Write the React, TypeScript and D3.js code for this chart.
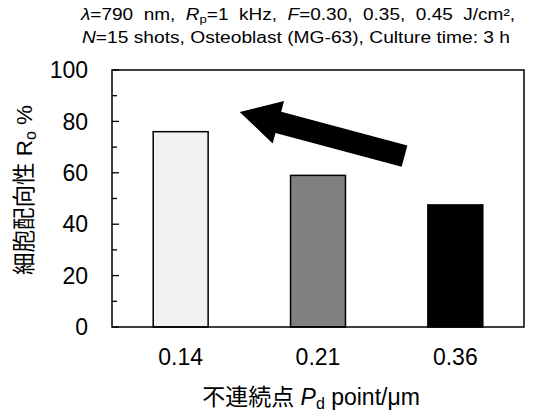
import React from 'react';
import * as d3 from 'd3';

const categories = ['0.14', '0.21', '0.36'];
const values = [76, 59, 47.5];
const barColors = ['#f2f2f2', '#808080', '#000000'];
const yTicks = [0, 20, 40, 60, 80, 100];
const yMinorTicks = [10, 30, 50, 70, 90];

const W = 546;
const H = 414;
const margin = { top: 70, right: 22, bottom: 87, left: 112 };
const FONT = '"Liberation Sans", Arial, "Noto Sans CJK JP", sans-serif';

export default function App() {
  const x = d3
    .scaleBand<string>()
    .domain(categories)
    .range([margin.left, W - margin.right])
    .paddingInner(0.6)
    .paddingOuter(0.3);
  const y = d3.scaleLinear().domain([0, 100]).range([H - margin.bottom, margin.top]);

  // arrow annotation in data space (x as fraction of band index)
  const xi = d3.scaleLinear().domain([0, 2]).range([x('0.14')! + x.bandwidth() / 2, x('0.36')! + x.bandwidth() / 2]);
  const tip: [number, number] = [xi(0.43), y(83.7)];
  const tail: [number, number] = [xi(1.63), y(66.5)];
  const dx = tail[0] - tip[0];
  const dy = tail[1] - tip[1];
  const len = Math.hypot(dx, dy);
  const ux = dx / len, uy = dy / len;
  const nx = -uy, ny = ux;
  const shaftW = 11, headW = 22, headL = 40;
  const hb: [number, number] = [tip[0] + ux * headL, tip[1] + uy * headL];
  const arrowPts = [
    tip,
    [hb[0] + nx * headW, hb[1] + ny * headW],
    [hb[0] + nx * shaftW, hb[1] + ny * shaftW],
    [tail[0] + nx * shaftW, tail[1] + ny * shaftW],
    [tail[0] - nx * shaftW, tail[1] - ny * shaftW],
    [hb[0] - nx * shaftW, hb[1] - ny * shaftW],
    [hb[0] - nx * headW, hb[1] - ny * headW],
  ];
  const left = margin.left;
  const right = W - margin.right;
  const top = margin.top;
  const bottom = H - margin.bottom;

  return (
    <svg width={W} height={H} style={{ position: 'absolute', left: 0, top: 0, background: '#fff' }} fontFamily={FONT}>
      <text x={81} y={20} fontSize={16} fill="#000" textLength={434} lengthAdjust="spacingAndGlyphs" style={{ whiteSpace: 'pre' }}>
        <tspan fontStyle="italic">λ</tspan>=790  nm,  <tspan fontStyle="italic">R</tspan>
        <tspan fontSize={11} dy={3}>p</tspan>
        <tspan dy={-3}>=1  kHz,  </tspan>
        <tspan fontStyle="italic">F</tspan>=0.30,  0.35,  0.45  J/cm²,
      </text>
      <text x={82} y={43} fontSize={16} fill="#000" textLength={428} lengthAdjust="spacingAndGlyphs">
        <tspan fontStyle="italic">N</tspan>=15 shots, Osteoblast (MG-63), Culture time: 3 h
      </text>

      {categories.map((c, i) => (
        <rect
          key={c}
          x={x(c)}
          y={y(values[i])}
          width={x.bandwidth()}
          height={y(0) - y(values[i])}
          fill={barColors[i]}
          stroke="#000"
          strokeWidth={1.5}
        />
      ))}

      <rect x={left} y={top} width={right - left} height={bottom - top} fill="none" stroke="#000" strokeWidth={1.5} />

      {yTicks.map((t) => (
        <g key={t}>
          <line x1={left} x2={left + 7} y1={y(t)} y2={y(t)} stroke="#000" strokeWidth={1.3} />
          <text x={left - 24} y={y(t)} dy="0.36em" fontSize={23} textAnchor="end" fill="#000">
            {t}
          </text>
        </g>
      ))}
      {yMinorTicks.map((t) => (
        <line key={t} x1={left} x2={left + 5} y1={y(t)} y2={y(t)} stroke="#000" strokeWidth={1.3} />
      ))}

      {categories.map((c) => (
        <text key={c} x={x(c)! + x.bandwidth() / 2} y={365} fontSize={23} textAnchor="middle" fill="#000">
          {c}
        </text>
      ))}

      <text x={311} y={405} fontSize={23} textAnchor="middle" fill="#000">
        不連続点 <tspan fontStyle="italic">P</tspan>
        <tspan fontSize={16} dy={4}>d</tspan>
        <tspan dy={-4}> point/μm</tspan>
      </text>

      <text
        transform={`translate(32, 190) rotate(-90)`}
        fontSize={22.5}
        textAnchor="middle"
        fill="#000"
      >
        細胞配向性 R<tspan fontSize={16} dy={4}>o</tspan>
        <tspan dy={-4}> %</tspan>
      </text>

      <polygon points={arrowPts.map((p) => p.join(',')).join(' ')} fill="#000" />
    </svg>
  );
}
